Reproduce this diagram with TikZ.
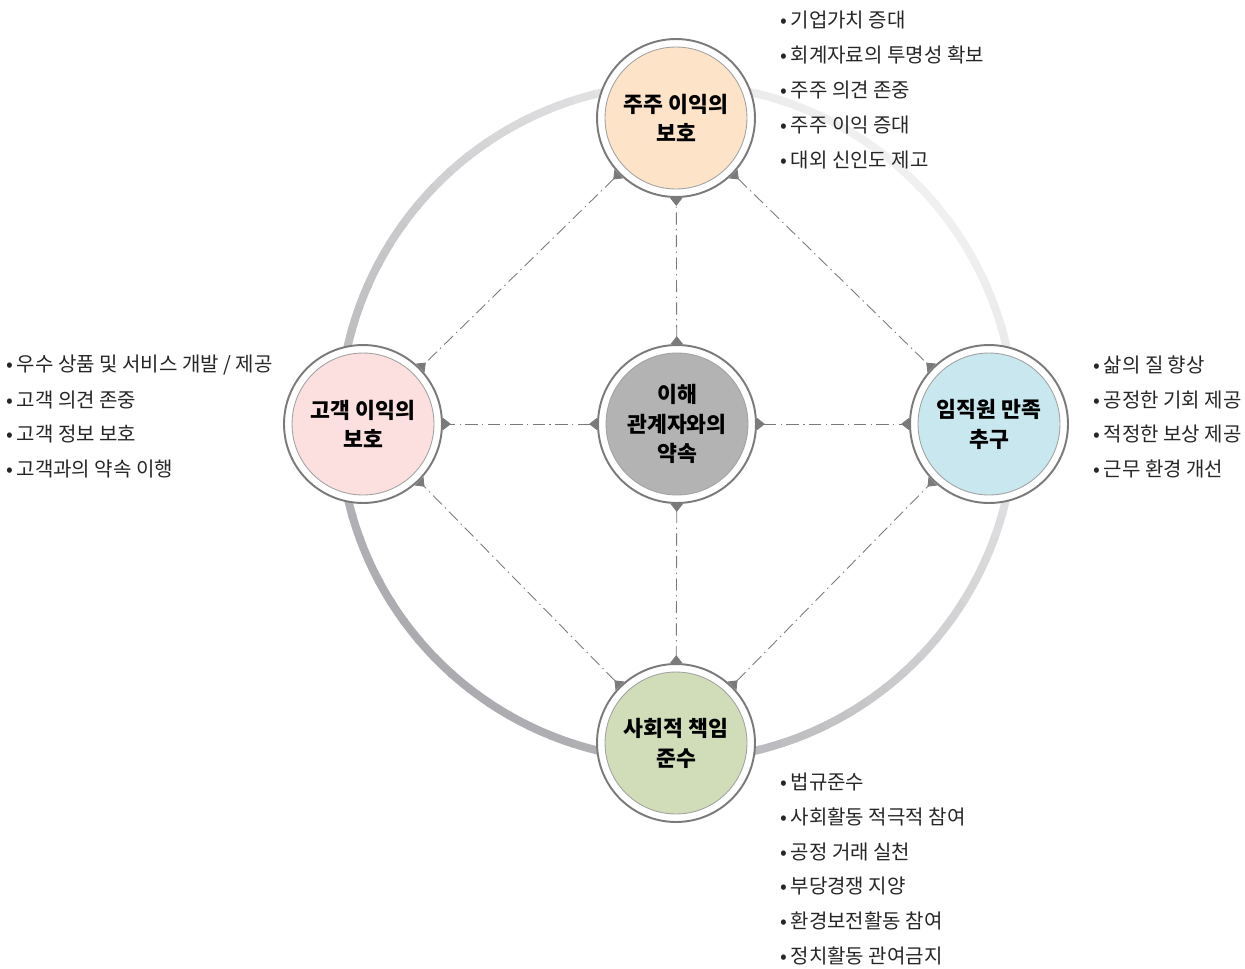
\documentclass[tikz,border=0pt]{standalone}
\usepackage{fontspec}
\setmainfont{Noto Sans CJK KR}
\usetikzlibrary{arrows.meta, calc}

\definecolor{ringdark}{HTML}{ACACB0}
\definecolor{ringlight}{HTML}{F0F0F0}
\definecolor{edgegray}{HTML}{7A7A7A}
\definecolor{peach}{HTML}{FDE4C9}
\definecolor{blush}{HTML}{FCE0E0}
\definecolor{sky}{HTML}{C8E7EF}
\definecolor{sage}{HTML}{D0DDB8}
\definecolor{stone}{HTML}{B3B3B3}

\begin{document}
\begin{tikzpicture}[
    x=0.02cm, y=-0.02cm,
    stake/.style={circle, draw=edgegray, line width=1.1pt, fill=white, minimum size=3.16cm, inner sep=0pt,
        align=center, font=\fontsize{12.3}{17}\selectfont\bfseries,
        path picture={\draw[fill=#1, draw=edgegray!70, line width=0.5pt] (path picture bounding box.center) circle (1.42cm);}},
    link/.style={draw=edgegray, line width=0.5pt, dash pattern=on 7pt off 2.5pt on 0.8pt off 2.5pt,
        >={Triangle[reversed, length=4.5pt, width=7pt]}, <->},
    item/.style={anchor=west, inner sep=0pt, font=\fontsize{11.4}{13}\selectfont, text=black!85},
]
\useasboundingbox (0,0) rectangle (1245,968);

% Ring
\coordinate (ringc) at (677,422);
\foreach \a in {0,4,...,356} {
    \pgfmathsetmacro\m{50+50*cos(\a-225)}
    \draw[line width=4.6pt, color=ringdark!\m!ringlight] (ringc) ++(\a:6.76cm) arc[start angle=\a, end angle=\a+4.4, radius=6.76cm];
}

% Stakeholders
\node[stake=stone] (core) at (677,424) {이해\\관계자와의\\약속};
\node[stake=peach] (holder) at (676,118) {주주 이익의\\보호};
\node[stake=blush] (client) at (363,424) {고객 이익의\\보호};
\node[stake=sky] (staff) at (989,424) {임직원 만족\\추구};
\node[stake=sage] (society) at (676,743) {사회적 책임\\준수};

% Links
\draw[link] (core) -- (holder);
\draw[link] (core) -- (client);
\draw[link] (core) -- (staff);
\draw[link] (core) -- (society);
\draw[link] (holder) -- (client);
\draw[link] (holder) -- (staff);
\draw[link] (society) -- (client);
\draw[link] (society) -- (staff);

% Lists
\foreach \t [count=\i] in {기업가치 증대, 회계자료의 투명성 확보, 주주 의견 존중, 주주 이익 증대, 대외 신인도 제고}
    \node[item] (holder-\i) at (780, {20+35*(\i-1)}) {•\kern2pt\t};
\foreach \t [count=\i] in {우수 상품 및 서비스 개발 / 제공, 고객 의견 존중, 고객 정보 보호, 고객과의 약속 이행}
    \node[item] (client-\i) at (6, {365+34.7*(\i-1)}) {•\kern2pt\t};
\foreach \t [count=\i] in {삶의 질 향상, 공정한 기회 제공, 적정한 보상 제공, 근무 환경 개선}
    \node[item] (staff-\i) at (1093, {365+34.7*(\i-1)}) {•\kern2pt\t};
\foreach \t [count=\i] in {법규준수, 사회활동 적극적 참여, 공정 거래 실천, 부당경쟁 지양, 환경보전활동 참여, 정치활동 관여금지}
    \node[item] (society-\i) at (780, {782+34.8*(\i-1)}) {•\kern2pt\t};

\end{tikzpicture}
\end{document}
